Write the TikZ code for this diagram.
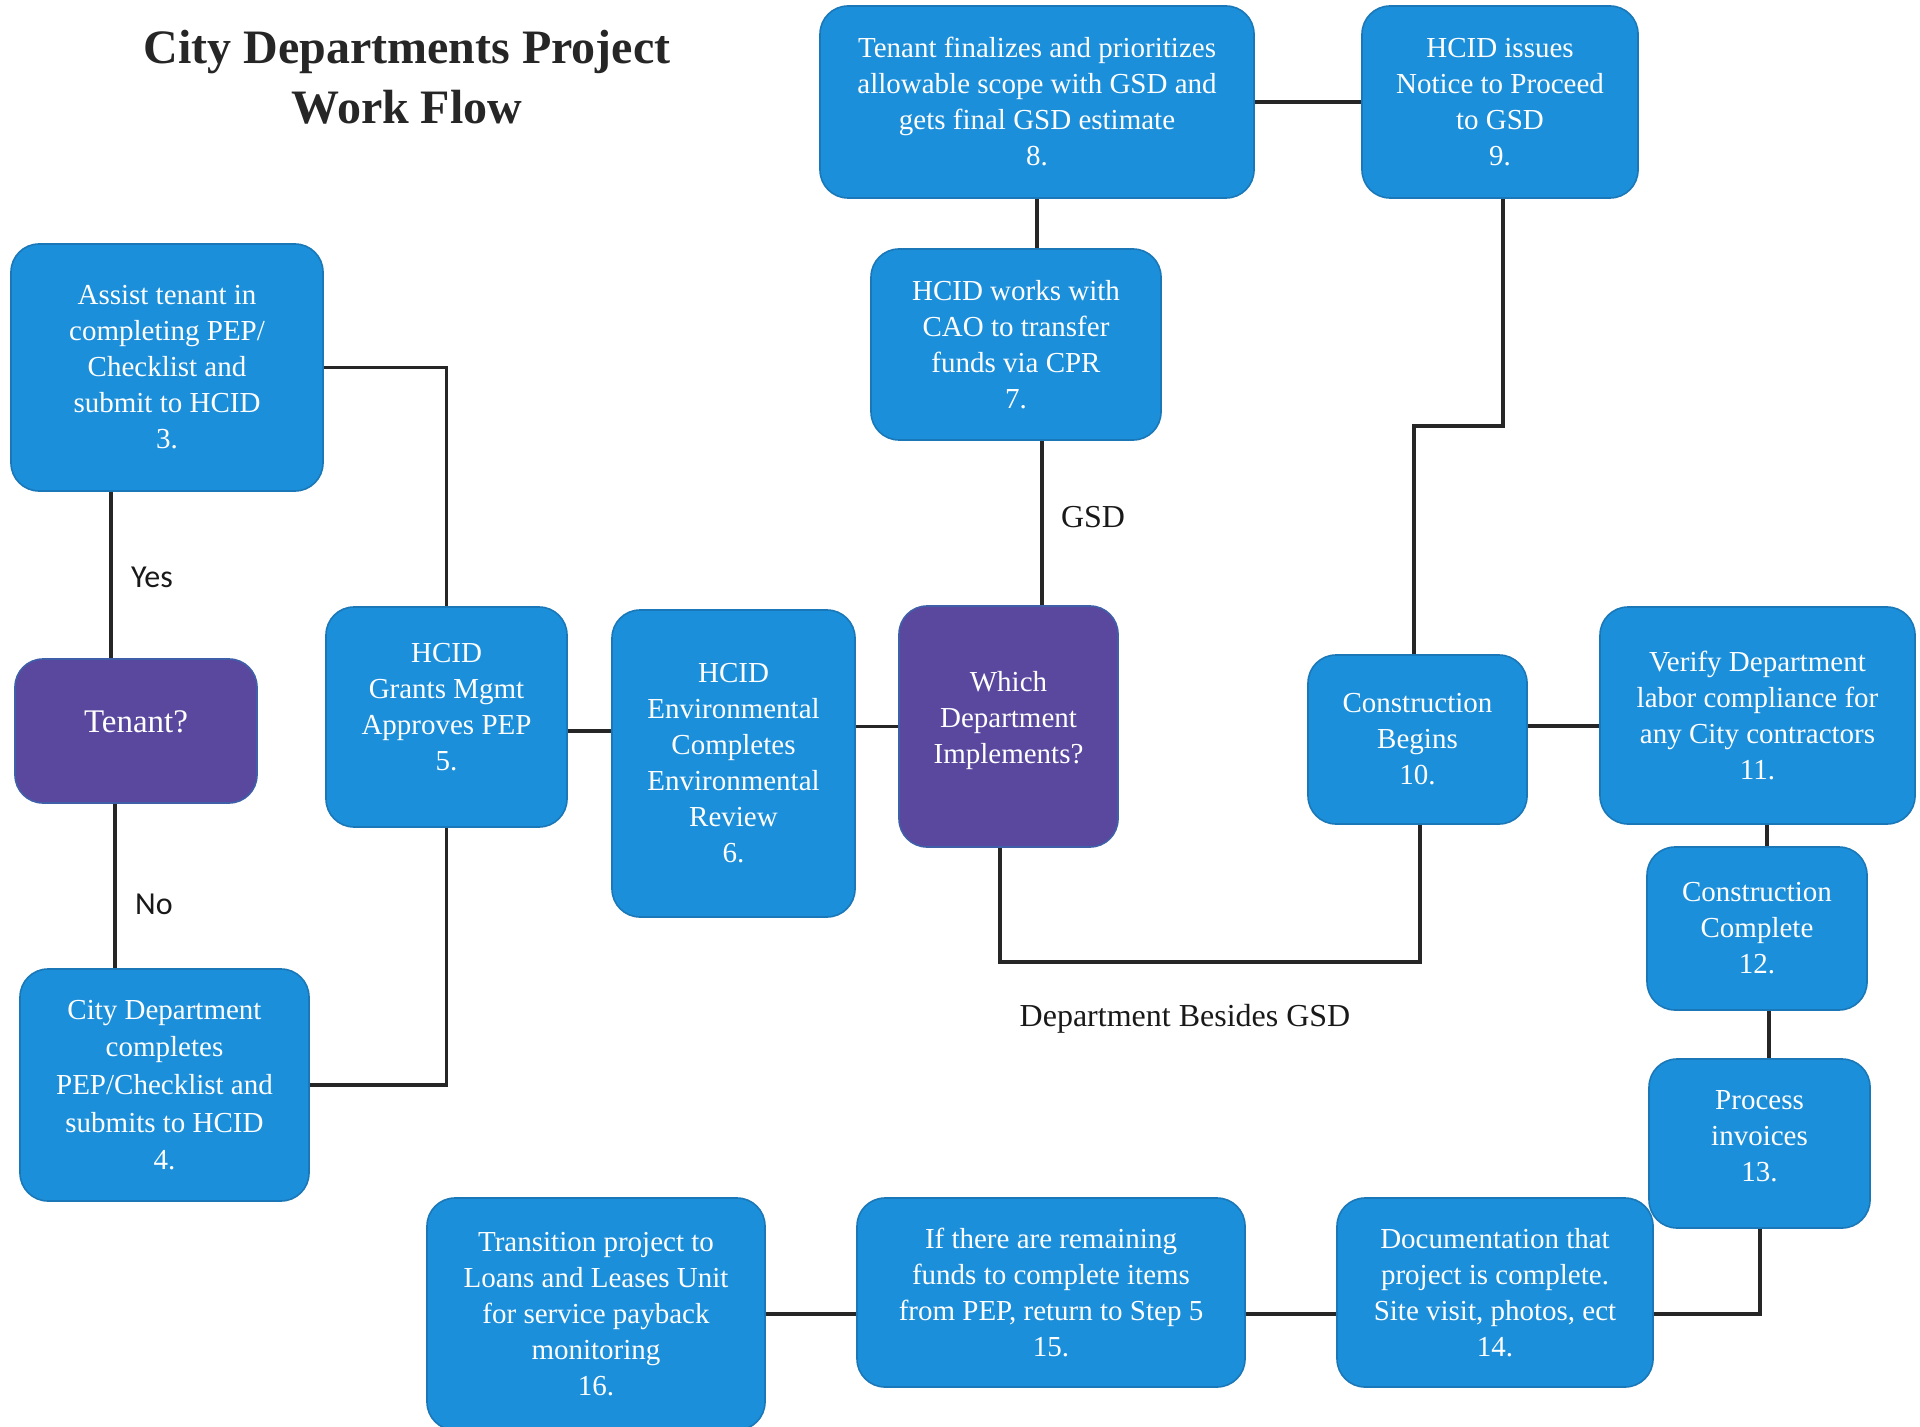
\documentclass[tikz,border=0pt]{standalone}
\usepackage{fontspec}
\setmainfont{Liberation Serif}
\newfontfamily\calib{Carlito}
\definecolor{cblue}{HTML}{1C8FDA}
\definecolor{cblueD}{HTML}{1A78B8}
\definecolor{cpurple}{HTML}{5A489F}
\definecolor{cpurpleD}{HTML}{3F5FA8}
\begin{document}
\begin{tikzpicture}[x=0.5pt,y=-0.5pt,
  box/.style={rounded corners=14pt, fill=cblue, draw=cblueD, line width=0.8pt, text=white,
    align=center, inner sep=0pt, font=\fontsize{14.5}{18}\selectfont},
  pbox/.style={box, fill=cpurple, draw=cpurpleD},
  conn/.style={line width=1.6pt, draw=black!85},
  lbl/.style={font=\fontsize{16}{19}\selectfont, text=black!90, inner sep=0pt},
  ttl/.style={font=\bfseries\fontsize{24}{30}\selectfont, text=black!85, align=center, inner sep=0pt}]
\useasboundingbox (0,0) rectangle (1920,1427);

\node[ttl] (title) at (407,77) {City Departments Project\\Work Flow};

\node[box, minimum width=217pt, minimum height=96pt] (n8) at (1037,102)
  {Tenant finalizes and prioritizes\\allowable scope with GSD and\\gets final GSD estimate\\8.};
\node[box, minimum width=138pt, minimum height=96pt] (n9) at (1500,102)
  {HCID issues\\Notice to Proceed\\to GSD\\9.};
\node[box, minimum width=145pt, minimum height=95.5pt] (n7) at (1016,344.5)
  {HCID works with\\CAO to transfer\\funds via CPR\\7.};
\node[box, minimum width=156pt, minimum height=123.5pt] (n3) at (167,367.5)
  {Assist tenant in\\completing PEP/\\Checklist and\\submit to HCID\\3.};
\node[pbox, minimum width=121pt, minimum height=72pt, text depth=9pt,
  font=\fontsize{16.5}{20}\selectfont] (tenant) at (136,731)
  {Tenant?};
\node[box, minimum width=120.5pt, minimum height=110pt, text depth=10pt] (n5) at (446.5,717)
  {HCID\\Grants Mgmt\\Approves PEP\\5.};
\node[box, minimum width=121.5pt, minimum height=153.5pt] (n6) at (733.5,763.5)
  {HCID\\Environmental\\Completes\\Environmental\\Review\\6.};
\node[pbox, minimum width=109.5pt, minimum height=120.5pt, text depth=9pt] (which) at (1008.5,726.5)
  {Which\\Department\\Implements?};
\node[box, minimum width=109.5pt, minimum height=84.5pt] (n10) at (1417.5,739.5)
  {Construction\\Begins\\10.};
\node[box, minimum width=157.5pt, minimum height=108.5pt] (n11) at (1757.5,715.5)
  {Verify Department\\labor compliance for\\any City contractors\\11.};
\node[box, minimum width=110pt, minimum height=81.5pt] (n12) at (1757,928.5)
  {Construction\\Complete\\12.};
\node[box, minimum width=110.5pt, minimum height=84.5pt, text depth=8pt] (n13) at (1759.5,1143.5)
  {Process\\invoices\\13.};
\node[box, minimum width=158pt, minimum height=94.5pt] (n14) at (1495,1292.5)
  {Documentation that\\project is complete.\\Site visit, photos, ect\\14.};
\node[box, minimum width=194pt, minimum height=94.5pt] (n15) at (1051,1292.5)
  {If there are remaining\\funds to complete items\\from PEP, return to Step 5\\15.};
\node[box, minimum width=169pt, minimum height=116pt] (n16) at (596,1314)
  {Transition project to\\Loans and Leases Unit\\for service payback\\monitoring\\16.};
\node[box, minimum width=144.5pt, minimum height=116pt,
  font=\fontsize{14.5}{18.8}\selectfont] (n4) at (164.5,1085)
  {City Department\\completes\\PEP/Checklist and\\submits to HCID\\4.};

% routing coordinates
\coordinate (xa) at (111,0);
\coordinate (xb) at (115,0);
\coordinate (xg) at (1042,0);
\coordinate (p9) at (1503,426);
\coordinate (p10) at (1414,426);
\coordinate (q1) at (1000,962);
\coordinate (q2) at (1420,962);
\coordinate (y56) at (0,731);
\coordinate (y1011) at (0,726);
\coordinate (x1112) at (1767,0);
\coordinate (x1213) at (1769,0);
\coordinate (r13) at (1760,1314);

\draw[conn] (n8) -- (n9);
\draw[conn] (n8.south) -- (n7.north -| n8.south);
\draw[conn] (n7.south -| xg) -- (which.north -| xg);
\draw[conn] (n9.south -| p9) -- (p9) -- (p10) -- (p10 |- n10.north);
\draw[conn] (which.south -| q1) -- (q1) -- (q2) -- (q2 |- n10.south);
\draw[conn] (n6.east |- which.west) -- (which.west);
\draw[conn] (n5.east |- y56) -- (n6.west |- y56);
\draw[conn] (n5.north) |- (n3.east);
\draw[conn] (n5.south) |- (n4.east);
\draw[conn] (n3.south -| xa) -- (tenant.north -| xa);
\draw[conn] (tenant.south -| xb) -- (n4.north -| xb);
\draw[conn] (n10.east |- y1011) -- (n11.west |- y1011);
\draw[conn] (n11.south -| x1112) -- (n12.north -| x1112);
\draw[conn] (n12.south -| x1213) -- (n13.north -| x1213);
\draw[conn] (n13.south -| r13) -- (r13) -- (n14.east |- r13);
\draw[conn] (n14.west |- r13) -- (n15.east |- r13);
\draw[conn] (n15.west |- r13) -- (n16.east |- r13);

\node[lbl, font=\calib\fontsize{16}{19}\selectfont] (yes) at (152,577) {Yes};
\node[lbl, font=\calib\fontsize{16}{19}\selectfont] (no) at (154,904) {No};
\node[lbl] (gsd) at (1093,517) {GSD};
\node[lbl] (besides) at (1185,1019) {Department Besides GSD};
\end{tikzpicture}
\end{document}
